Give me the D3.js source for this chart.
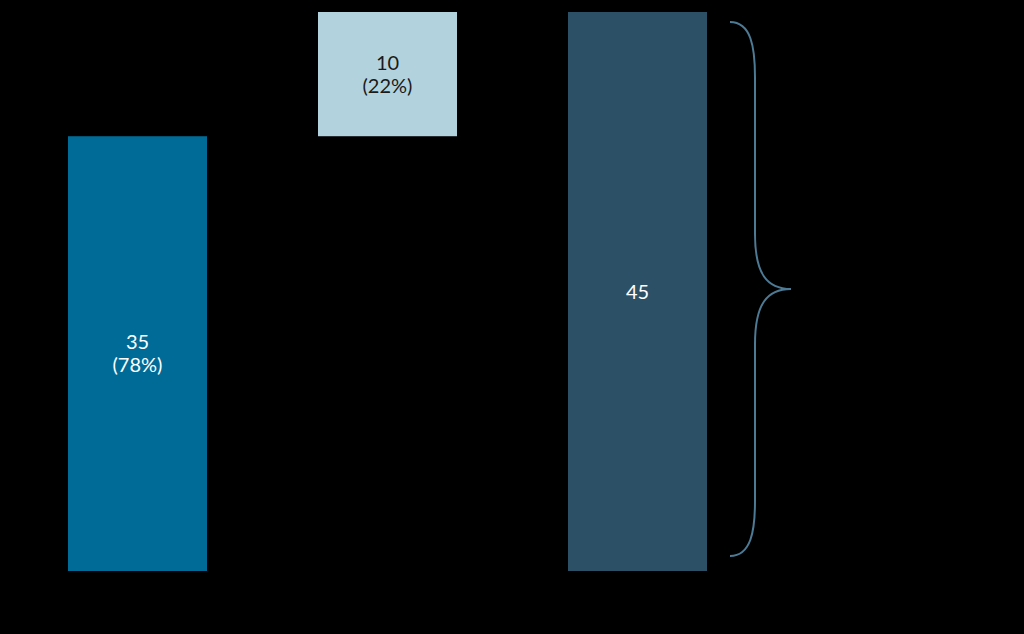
<!DOCTYPE html>
<html><head><meta charset="utf-8">
<script src="https://cdn.jsdelivr.net/npm/d3@7/dist/d3.min.js"></script>
<style>html,body{margin:0;padding:0;background:#000;}svg{display:block;}</style>
</head><body>
<script>
const categories = ["Part A", "Part B", "Total"];
const values = [35, 10, 45];
const bases = [0, 35, 0];
const labels = [["35", "(78%)"], ["10", "(22%)"], ["45"]];
const colors = ["#006b97", "#b2d3de", "#2c5066"];
const textColors = ["#ffffff", "#1a1a1a", "#ffffff"];

const W = 1024, H = 634;
const svg = d3.select("body").append("svg").attr("width", W).attr("height", H)
  .style("background", "#000");

const x = d3.scaleBand().domain(categories).range([68, 707]).paddingInner(0.444).paddingOuter(0);
const y = d3.scaleLinear().domain([0, 45]).range([571, 12]);

svg.selectAll("rect.bar").data(categories).join("rect")
  .attr("class", "bar")
  .attr("x", d => x(d))
  .attr("width", x.bandwidth())
  .attr("y", (d, i) => y(bases[i] + values[i]))
  .attr("height", (d, i) => y(bases[i]) - y(bases[i] + values[i]))
  .attr("fill", (d, i) => colors[i]);

const lh = 23;
categories.forEach((c, i) => {
  const cy = (y(bases[i]) + y(bases[i] + values[i])) / 2;
  const lines = labels[i];
  const t = svg.append("text")
    .attr("text-anchor", "middle")
    .attr("font-family", "Lato, 'Noto Sans', sans-serif")
    .attr("font-size", 20)
    .attr("fill", textColors[i]);
  lines.forEach((l, k) => {
    t.append("tspan")
      .attr("x", x(c) + x.bandwidth() / 2)
      .attr("y", cy + (k - (lines.length - 1) / 2) * lh + 7)
      .text(l);
  });
});

// brace beside the total bar
const tot = categories[2];
const bx0 = x(tot) + x.bandwidth() + 23;
const bx1 = bx0 + 25;
const tip = bx0 + 61;
const yTop = y(45) + 10, yBot = y(0) - 15;
const yMid = (yTop + yBot) / 2;
const p = d3.path();
p.moveTo(bx0, yTop);
p.bezierCurveTo(bx1 - 4, yTop, bx1, yTop + 25, bx1, yTop + 55);
p.lineTo(bx1, yMid - 55);
p.bezierCurveTo(bx1, yMid - 15, bx1 + 12, yMid, tip, yMid);
p.bezierCurveTo(bx1 + 12, yMid, bx1, yMid + 15, bx1, yMid + 55);
p.lineTo(bx1, yBot - 55);
p.bezierCurveTo(bx1, yBot - 25, bx1 - 4, yBot, bx0, yBot);
svg.append("path").attr("d", p.toString())
  .attr("fill", "none").attr("stroke", "#4d7a94").attr("stroke-width", 2);
</script>
</body></html>
